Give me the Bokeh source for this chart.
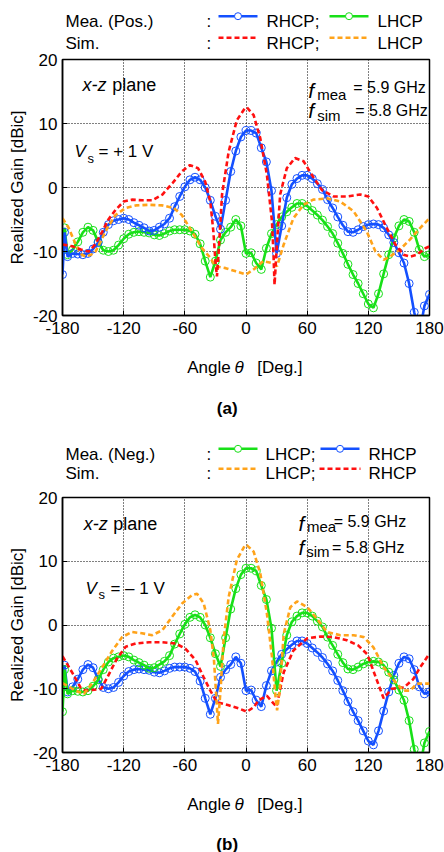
from bokeh.plotting import figure
from bokeh.layouts import column
from bokeh.models import Range1d, FixedTicker
from bokeh.core.properties import value
from bokeh.embed import file_html
from bokeh.resources import INLINE

FONT = "Liberation Sans"
BLUE = "#1450ff"
GREEN = "#18e018"
RED = "#ff1010"
ORANGE = "#ffa31a"

x_ticks = [-180, -120, -60, 0, 60, 120, 180]
x_tick_labels = ["-180", "-120", "-60", "0", "60", "120", "180"]
y_ticks = [-20, -10, 0, 10, 20]
y_tick_labels = ["-20", "-10", "0", "10", "20"]

# measured angles (deg)
ang_mea = [-180, -178] + list(range(-175, 185, 5))

# (a) Vs = +1 V, measured RHCP
mea_pos_rhcp = [-13.6, -7.0, -10.8, -10.3, -10.4, -10.5, -10.3, -9.6, -8.6, -7.0,
                -5.8, -5.2, -5.0, -4.8, -5.0, -5.5, -5.9, -6.3, -6.8, -6.7,
                -6.2, -5.7, -4.8, -3.0, -1.4, 0.1, 1.2, 1.6, 1.2, 0.0,
                -2.0, -4.5, -6.5, -2.0, 2.5, 5.7, 7.9, 8.9, 8.9, 8.5,
                6.2, 4.0, -0.5, -10.3, -6.0, -1.6, 0.5, 1.4, 1.9, 1.9,
                1.4, 0.6, -0.3, -1.9, -3.2, -4.6, -5.9, -6.9, -7.0, -6.6,
                -6.1, -5.8, -5.7, -5.8, -6.3, -7.4, -8.6, -10.2, -11.8, -15.0,
                -19.5, -23.0, -18.5, -16.7]
# (a) Vs = +1 V, measured LHCP
mea_pos_lhcp = [-9.7, -6.3, -10.5, -9.7, -8.5, -7.0, -6.2, -6.7, -8.5, -9.8,
                -10.0, -9.8, -9.0, -8.0, -7.3, -7.0, -6.9, -7.0, -7.1, -7.4,
                -7.5, -7.2, -6.8, -6.6, -6.6, -6.6, -6.8, -7.3, -8.8, -11.5,
                -14.0, -11.5, -8.2, -7.0, -6.2, -5.0, -6.0, -10.3, -10.2, -11.8,
                -12.8, -9.5, -7.2, -5.8, -4.6, -3.8, -3.1, -2.5, -2.5, -2.9,
                -3.6, -4.3, -5.1, -6.1, -7.2, -8.7, -10.3, -12.0, -13.6, -15.0,
                -16.6, -18.2, -18.8, -16.6, -13.5, -10.5, -7.9, -6.0, -5.0, -5.3,
                -7.0, -9.7, -10.8, -10.5]
# (b) Vs = -1 V: measured patterns (same measured traces, polarizations swapped)
mea_neg_lhcp = mea_pos_rhcp
mea_neg_rhcp = mea_pos_lhcp

# (a) simulated RHCP
ang_sim_pos_rhcp = [-180, -170, -162, -154, -148, -141, -135, -128, -120, -112,
                    -102, -92, -82, -72, -63, -55, -47, -40, -35, -32,
                    -30, -28.5, -27, -23.5, -17, -9, -1, 1, 7.5, 14,
                    20.5, 25.5, 27, 28, 30.5, 33.5, 40, 48, 56.5, 64.5,
                    74.5, 86, 99, 112, 120, 128.5, 138, 146.5, 154.5, 161,
                    167.5, 176, 180]
sim_pos_rhcp = [-8.9, -9.2, -9.7, -10.0, -8.9, -6.9, -5.0, -3.5, -2.2, -1.9,
                -2.0, -2.0, -1.1, 0.7, 2.5, 3.5, 3.0, 0.9, -2.2, -6.9,
                -11.5, -13.9, -10.5, -1.1, 5.6, 10.5, 12.4, 12.5, 11.3, 7.7,
                2.0, -5.3, -10.5, -15.2, -8.4, -1.1, 3.0, 4.6, 4.1, 2.0,
                -0.4, -1.4, -1.4, -1.1, -1.4, -3.2, -6.3, -8.9, -10.5, -10.8,
                -10.5, -9.5, -9.2]
# (a) simulated LHCP
ang_sim_pos_lhcp = [-180, -174, -167, -161, -157, -152, -147.5, -142.5, -136, -128,
                    -118, -108, -95, -82, -71, -63, -53, -43, -35, -30,
                    -20, -10, 0, 7.5, 17, 25.5, 30.5, 37, 46.5, 56.5,
                    66, 79.5, 92.5, 105.5, 118.5, 127, 135, 143, 151, 161,
                    171, 180]
sim_pos_lhcp = [-4.8, -6.3, -8.9, -10.5, -10.8, -10.5, -10.0, -8.4, -6.3, -4.3,
                -3.2, -2.8, -2.7, -2.8, -3.2, -4.3, -6.9, -9.5, -11.0, -12.3,
                -12.6, -13.1, -13.6, -12.8, -11.5, -11.8, -12.3, -8.9, -4.8, -2.7,
                -1.9, -1.7, -2.2, -3.7, -6.9, -10.0, -11.3, -10.6, -9.7, -8.1,
                -6.3, -4.8]
# (b) simulated LHCP
ang_sim_neg_lhcp = [-180, -167, -159, -151, -141, -131, -121.5, -112, -102, -92,
                    -82, -72.5, -62.5, -53, -48, -41.5, -35, -31.5, -29.5, -27.5,
                    -25, -22, -17, -9, -1, 1, 7.5, 14, 20.5, 25.5,
                    29, 30.5, 33, 37, 43.5, 50, 60, 69.5, 79.5, 92.5,
                    105.5, 115.5, 125, 135, 145, 154.5, 161, 167.5, 180]
sim_neg_lhcp = [-9.1, -10.3, -10.8, -9.2, -6.6, -4.0, -1.9, -1.1, -1.3, -1.6,
                -0.8, 1.3, 3.4, 4.7, 4.9, 3.4, -0.8, -5.3, -10.3, -15.5,
                -10.3, -2.4, 4.4, 10.2, 12.5, 12.5, 11.5, 8.1, 1.8, -5.0,
                -11.3, -13.4, -10.3, -1.4, 2.8, 3.7, 2.8, 1.0, -1.1, -1.6,
                -1.6, -1.9, -3.5, -6.6, -8.7, -10.3, -10.3, -9.2, -9.2]
# (b) simulated RHCP
ang_sim_neg_rhcp = [-180, -170, -162, -157, -151, -142, -136, -127, -118, -108,
                    -95, -82, -69, -59.5, -49.5, -41.5, -35, -28.5, -17, -7,
                    1, 7.5, 12.5, 20.5, 27, 30, 37, 46.5, 60, 73,
                    86, 99, 110, 119, 128, 135, 143, 155, 164, 171,
                    180]
sim_neg_rhcp = [-4.9, -7.6, -9.9, -10.3, -10.2, -10.0, -8.2, -5.4, -3.4, -2.9,
                -2.7, -2.7, -2.9, -3.7, -5.5, -8.2, -10.3, -12.1, -12.6, -13.1,
                -13.6, -12.9, -11.8, -11.1, -12.3, -12.8, -7.4, -4.0, -2.1, -1.8,
                -1.9, -2.4, -3.2, -4.6, -8.5, -11.5, -10.0, -9.8, -8.5, -6.6,
                -4.5]

W = 444
BORDER_L = 62
BORDER_R = 15


def add_text(fig, x, y, s, size, style="normal", align="left"):
    fig.text(x=[x], y=[y], text=[s], text_font=value(FONT), text_font_size=value(size),
             text_font_style=value(style), text_align=value(align),
             text_baseline=value("alphabetic"), text_color=value("black"))


def overlay(top_page, bottom_page):
    # drawing area whose coordinates are page pixels (y grows downward).
    # Bokeh aligns the frames of the column's figures, so this frame spans
    # the same horizontal extent as the plot frames.
    f = figure(width=W, height=bottom_page - top_page,
               x_range=Range1d(BORDER_L, W - BORDER_R),
               y_range=Range1d(bottom_page, top_page), output_backend="svg",
               toolbar_location=None, min_border=0, min_border_left=BORDER_L,
               min_border_right=BORDER_R, min_border_top=0, min_border_bottom=0,
               x_axis_type=None, y_axis_type=None)
    f.outline_line_color = None
    f.grid.visible = False
    return f


def make_plot(height, top, bottom):
    p = figure(width=W, height=height, x_range=Range1d(-180, 180), y_range=Range1d(-20, 20),
               output_backend="svg", toolbar_location=None,
               min_border_left=BORDER_L, min_border_right=BORDER_R, min_border_top=top,
               min_border_bottom=bottom)
    p.xaxis.ticker = FixedTicker(ticks=x_ticks)
    p.yaxis.ticker = FixedTicker(ticks=y_ticks)
    p.xgrid.ticker = FixedTicker(ticks=x_ticks)
    p.ygrid.ticker = FixedTicker(ticks=y_ticks)
    p.xaxis.major_label_overrides = dict(zip(x_ticks, x_tick_labels))
    p.yaxis.major_label_overrides = dict(zip(y_ticks, y_tick_labels))
    p.yaxis.axis_label = "Realized Gain [dBic]"
    p.yaxis.axis_label_text_font = FONT
    p.yaxis.axis_label_text_font_size = "17px"
    p.yaxis.axis_label_text_font_style = "normal"
    p.yaxis.axis_label_text_color = "black"
    p.yaxis.axis_label_standoff = 3
    p.axis.major_label_text_font = FONT
    p.axis.major_label_text_font_size = "17px"
    p.axis.major_label_text_color = "black"
    p.xaxis.major_label_standoff = 6
    p.yaxis.major_label_standoff = 5
    p.axis.major_tick_in = 5
    p.axis.major_tick_out = 0
    p.axis.minor_tick_in = 0
    p.axis.minor_tick_out = 0
    p.axis.major_tick_line_color = "black"
    p.axis.axis_line_color = "black"
    p.axis.axis_line_width = 1.5
    p.grid.grid_line_color = "black"
    p.grid.grid_line_dash = "1 2"
    p.grid.grid_line_width = 1
    p.outline_line_color = "black"
    p.outline_line_width = 1.5
    p.outline_line_alpha = 1
    return p


def add_measured(p, ang, vals, color):
    p.line(ang, vals, line_color=color, line_width=2.6)
    p.scatter(ang, vals, marker="circle", size=8, fill_color=None, line_color=color,
              line_width=1)


def add_sim(p, ang, vals, color):
    p.line(ang, vals, line_color=color, line_width=2.6, line_dash="5 3")


def key(f, x0, x1, y, color, measured):
    # legend key drawn in page pixels
    if measured:
        f.line([x0, x1], [y, y], line_color=color, line_width=2.6)
        f.scatter([(x0 + x1) / 2], [y], marker="circle", size=7, fill_color="white",
                  line_color=color, line_width=1)
    else:
        f.line([x0, x1], [y, y], line_color=color, line_width=2.6, line_dash="5 3")


# ---------------- top legend ----------------
legA = overlay(0, 52)
add_text(legA, 65, 20.7, "Mea. (Pos.)", "17px")
add_text(legA, 206, 20.7, ":", "17px")
key(legA, 218, 257, 15.7, BLUE, True)
add_text(legA, 266, 20.7, "RHCP;", "17px")
key(legA, 329, 368, 15.7, GREEN, True)
add_text(legA, 377, 20.7, "LHCP", "17px")
add_text(legA, 65, 42.7, "Sim.", "17px")
add_text(legA, 206, 42.7, ":", "17px")
key(legA, 218, 257, 37.3, RED, False)
add_text(legA, 266, 42.7, "RHCP;", "17px")
key(legA, 329, 368, 37.3, ORANGE, False)
add_text(legA, 377, 42.7, "LHCP", "17px")

# ---------------- plot (a) ----------------
pa = make_plot(293, 7, 30)
add_measured(pa, ang_mea, mea_pos_lhcp, GREEN)
add_measured(pa, ang_mea, mea_pos_rhcp, BLUE)
add_sim(pa, ang_sim_pos_lhcp, sim_pos_lhcp, ORANGE)
add_sim(pa, ang_sim_pos_rhcp, sim_pos_rhcp, RED)
add_text(pa, -160.4, 16.05, "x-z", "18px", "italic")
add_text(pa, -131.3, 16.05, "plane", "18px")
add_text(pa, -168.2, 5.6, "V", "17px", "italic")
add_text(pa, -155.5, 4.6, "s", "13px")
add_text(pa, -144.7, 5.6, "= + 1 V", "17px")
add_text(pa, 61.1, 15.1, "f", "21px", "italic")
add_text(pa, 69.9, 14.5, "mea", "15px")
add_text(pa, 105.2, 15.6, "= 5.9 GHz", "16px")
add_text(pa, 61.1, 12.0, "f", "21px", "italic")
add_text(pa, 69.9, 11.2, "sim", "15px")
add_text(pa, 107.2, 12.0, "= 5.8 GHz", "16px")

# ---------------- middle: x label (a), caption (a), legend (b) ----------------
mid = overlay(345, 488)
add_text(mid, 186.7, 367.3, "Angle", "17px")
add_text(mid, 234, 367.3, "\u03b8", "17px", "italic")
add_text(mid, 256.7, 367.3, "[Deg.]", "17px")
add_text(mid, 226.7, 408, "(a)", "17px", "bold", "center")
add_text(mid, 65, 454, "Mea. (Neg.)", "17px")
add_text(mid, 206, 454, ":", "17px")
key(mid, 218, 257, 448.3, GREEN, True)
add_text(mid, 265, 454, "LHCP;", "17px")
key(mid, 320, 359, 448.3, BLUE, True)
add_text(mid, 368, 454, "RHCP", "17px")
add_text(mid, 65, 473.3, "Sim.", "17px")
add_text(mid, 206, 473.3, ":", "17px")
key(mid, 218, 257, 468.3, ORANGE, False)
add_text(mid, 265, 473.3, "LHCP;", "17px")
key(mid, 319, 360, 468.3, RED, False)
add_text(mid, 368, 473.3, "RHCP", "17px")

# ---------------- plot (b) ----------------
pb = make_plot(294, 9, 30)
add_measured(pb, ang_mea, mea_neg_rhcp, BLUE)
add_measured(pb, ang_mea, mea_neg_lhcp, GREEN)
add_sim(pb, ang_sim_neg_rhcp, sim_neg_rhcp, RED)
add_sim(pb, ang_sim_neg_lhcp, sim_neg_lhcp, ORANGE)
add_text(pb, -159.1, 15.9, "x-z", "18px", "italic")
add_text(pb, -130.3, 15.9, "plane", "18px")
add_text(pb, -157.5, 5.7, "V", "17px", "italic")
add_text(pb, -144.7, 4.8, "s", "13px")
add_text(pb, -133.0, 5.7, "= \u2013 1 V", "17px")
add_text(pb, 51.6, 16.0, "f", "21px", "italic")
add_text(pb, 59.8, 15.5, "mea", "15px")
add_text(pb, 86.0, 16.2, "= 5.9 GHz", "16px")
add_text(pb, 51.6, 12.1, "f", "21px", "italic")
add_text(pb, 59.1, 11.6, "sim", "15px")
add_text(pb, 84.3, 12.2, "= 5.8 GHz", "16px")

# ---------------- end: x label (b), caption (b) ----------------
end = overlay(782, 852)
add_text(end, 186.7, 804, "Angle", "17px")
add_text(end, 234, 804, "\u03b8", "17px", "italic")
add_text(end, 256.7, 804, "[Deg.]", "17px")
add_text(end, 226.7, 843.5, "(b)", "17px", "bold", "center")

layout = column(legA, pa, mid, pb, end, spacing=0)
open("out.html", "w").write(file_html(layout, INLINE))
